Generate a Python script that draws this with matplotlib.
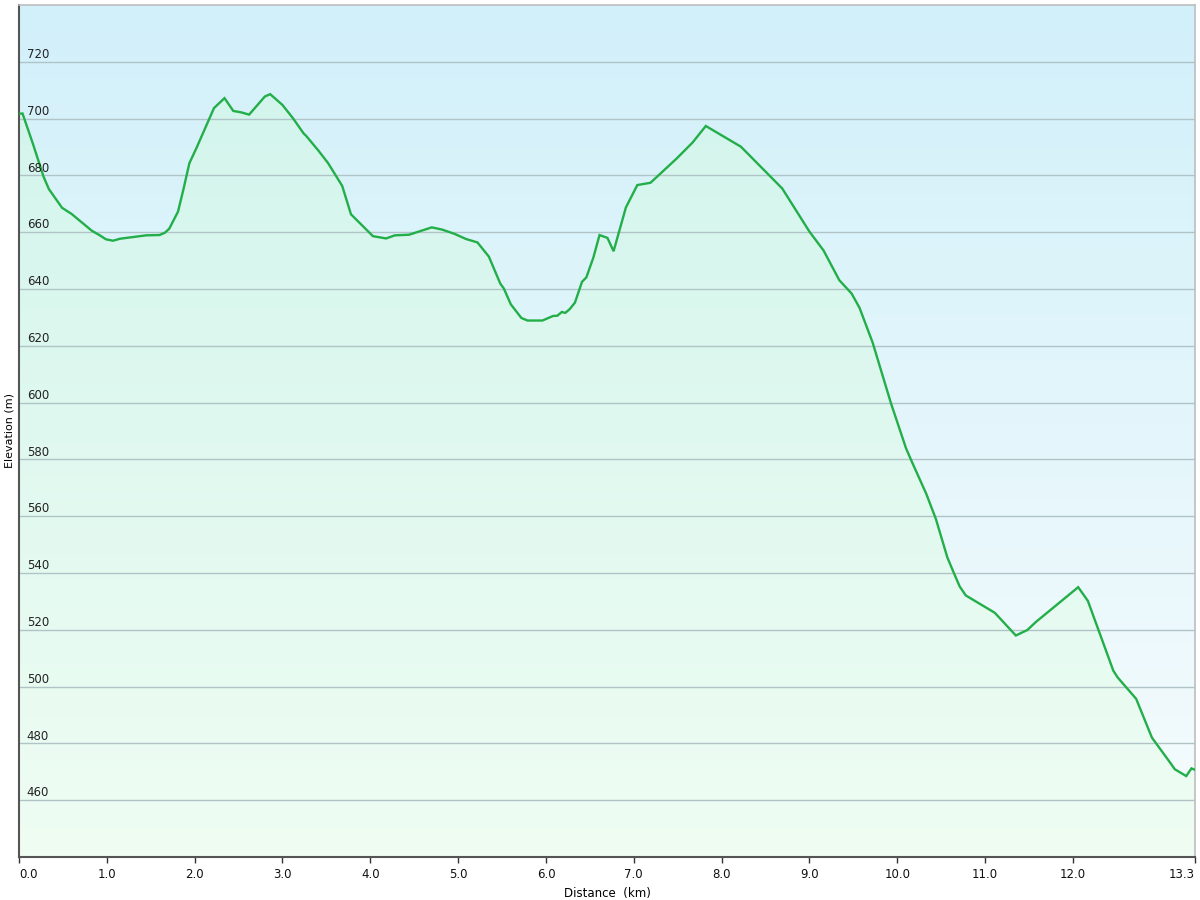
import numpy as np
import matplotlib
matplotlib.use("Agg")
import matplotlib.pyplot as plt
from matplotlib.colors import LinearSegmentedColormap

# Elevation profile
distance_km = [0.00, 0.04, 0.16, 0.28, 0.34, 0.49, 0.60, 0.83, 0.92, 0.99, 1.07, 1.15,
               1.45, 1.60, 1.66, 1.71, 1.81, 1.87, 1.94, 2.02, 2.22, 2.34, 2.44, 2.53,
               2.62, 2.80, 2.86, 3.00, 3.12, 3.24, 3.27, 3.41, 3.52, 3.68, 3.78, 4.03,
               4.18, 4.28, 4.44, 4.70, 4.82, 4.96, 5.09, 5.22, 5.35, 5.48, 5.52, 5.60,
               5.72, 5.79, 5.96, 6.08, 6.13, 6.18, 6.22, 6.27, 6.33, 6.41, 6.46, 6.54,
               6.61, 6.70, 6.77, 6.91, 7.04, 7.19, 7.49, 7.67, 7.82, 8.22, 8.69, 9.00,
               9.16, 9.34, 9.48, 9.57, 9.72, 9.93, 10.10, 10.16, 10.33, 10.44, 10.57,
               10.65, 10.71, 10.78, 11.11, 11.35, 11.48, 11.58, 12.06, 12.17, 12.46,
               12.51, 12.72, 12.90, 13.11, 13.16, 13.29, 13.35, 13.39]
elevation_m = [701.7, 701.8, 691.0, 679.5, 675.2, 668.6, 666.4, 660.5, 658.9, 657.5, 657.0, 657.7,
               658.9, 659.0, 659.8, 661.2, 667.2, 674.8, 684.3, 689.6, 703.7, 707.2, 702.7, 702.2,
               701.4, 707.8, 708.6, 704.8, 700.1, 694.8, 693.9, 688.7, 684.3, 676.3, 666.3, 658.6,
               657.8, 658.9, 659.1, 661.7, 660.9, 659.4, 657.6, 656.4, 651.4, 641.9, 640.2, 634.6,
               629.8, 628.9, 628.9, 630.5, 630.6, 631.9, 631.6, 632.9, 635.2, 642.5, 644.1, 651.1,
               659.0, 658.0, 653.3, 668.7, 676.6, 677.4, 686.0, 691.6, 697.4, 690.1, 675.4, 660.2,
               653.6, 643.1, 638.4, 633.4, 621.1, 599.6, 583.9, 579.6, 567.9, 559.0, 545.5,
               539.6, 535.3, 532.1, 526.0, 518.0, 519.9, 522.8, 535.0, 530.2, 505.6,
               503.2, 495.7, 482.0, 473.1, 470.9, 468.5, 471.2, 470.7]

x_ticks = [0, 1, 2, 3, 4, 5, 6, 7, 8, 9, 10, 11, 12, 13.39]
x_tick_labels = ["0.0", "1.0", "2.0", "3.0", "4.0", "5.0", "6.0", "7.0", "8.0", "9.0",
                 "10.0", "11.0", "12.0", "13.3"]
y_ticks = [460, 480, 500, 520, 540, 560, 580, 600, 620, 640, 660, 680, 700, 720]

x_min, x_max = 0, 13.39
y_min, y_max = 440, 740

fig = plt.figure(figsize=(12, 9), dpi=100)
ax = fig.add_axes([19 / 1200, 43 / 900, 1176 / 1200, 852 / 900])
ax.set_xlim(x_min, x_max)
ax.set_ylim(y_min, y_max)

# Background gradient: light blue at top to almost white at bottom
bg = LinearSegmentedColormap.from_list("bg", ["#f6fcfd", "#d2f0fa"])
grad = np.linspace(0, 1, 256).reshape(-1, 1)
ax.imshow(grad, cmap=bg, aspect="auto", origin="lower",
          extent=[x_min, x_max, y_min, y_max], zorder=0)

# Area under the profile: pale green gradient
fill = ax.fill_between(distance_km, elevation_m, y_min, color="none", lw=0, zorder=1)
area = LinearSegmentedColormap.from_list("area", ["#effdf3", "#d0f4ec"])
img = ax.imshow(grad, cmap=area, aspect="auto", origin="lower",
                extent=[x_min, x_max, y_min, y_max], zorder=1)
img.set_clip_path(fill.get_paths()[0], transform=ax.transData)

# Horizontal grid lines
for v in y_ticks:
    ax.axhline(v, color="#b0c4c8", lw=1.0, zorder=2)

ax.plot(distance_km, elevation_m, color="#22ae48", lw=1.7, zorder=3,
        solid_joinstyle="miter")

# Y labels sit inside the plot, just above each grid line
for v in y_ticks:
    ax.text(0.0065, v + 0.3, str(v), transform=ax.get_yaxis_transform(),
            fontsize=8.5, color="#222222", ha="left", va="bottom", zorder=4)
ax.set_yticks([])

ax.set_xticks(x_ticks)
ax.set_xticklabels(x_tick_labels, fontsize=8.5, color="#111111")
labels = ax.get_xticklabels()
labels[0].set_horizontalalignment("left")
labels[-1].set_horizontalalignment("right")
ax.tick_params(axis="x", direction="out", length=4, width=1, color="#333333", pad=4)

ax.set_xlabel("Distance  (km)", fontsize=8.5, labelpad=4)
ax.set_ylabel("Elevation (m)", fontsize=8, labelpad=3)

for side in ["left", "bottom"]:
    ax.spines[side].set_color("#555555")
    ax.spines[side].set_linewidth(1.5)
for side in ["top", "right"]:
    ax.spines[side].set_color("#bdbdbd")
    ax.spines[side].set_linewidth(1.2)

fig.savefig("out.png", dpi=100)
